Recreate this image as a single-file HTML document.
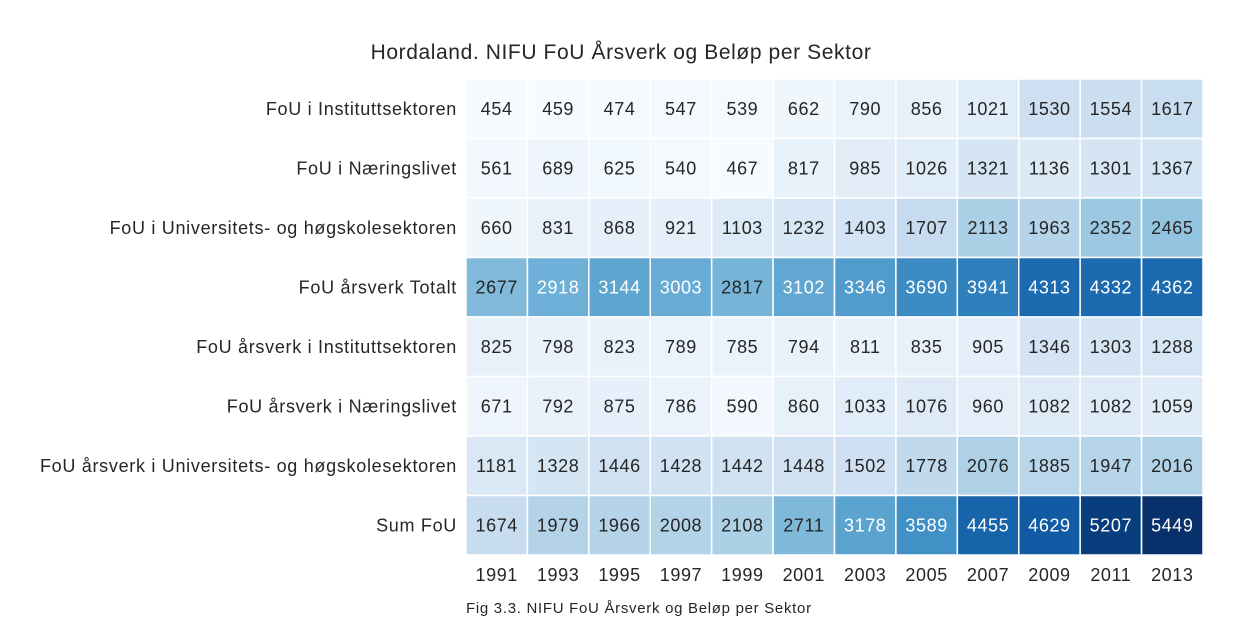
<!DOCTYPE html>
<html><head><meta charset="utf-8">
<style>
body{margin:0;background:#fff;width:1243px;height:623px;overflow:hidden;font-family:"Liberation Sans",Arial,sans-serif;}
</style></head>
<body>
<svg id="chart" width="1243" height="623">
<text x="621" y="59" text-anchor="middle" font-size="21" letter-spacing="0.6" fill="#262626">Hordaland. NIFU FoU Årsverk og Beløp per Sektor</text>
<text x="466" y="613" font-size="15" letter-spacing="0.7" fill="#262626">Fig 3.3. NIFU FoU Årsverk og Beløp per Sektor</text>
<g id="cells"></g>
</svg>
<script>
const years = ["1991","1993","1995","1997","1999","2001","2003","2005","2007","2009","2011","2013"];
const rowLabels = ["FoU i Instituttsektoren","FoU i Næringslivet","FoU i Universitets- og høgskolesektoren","FoU årsverk Totalt","FoU årsverk i Instituttsektoren","FoU årsverk i Næringslivet","FoU årsverk i Universitets- og høgskolesektoren","Sum FoU"];
const row0 = [454,459,474,547,539,662,790,856,1021,1530,1554,1617];
const row1 = [561,689,625,540,467,817,985,1026,1321,1136,1301,1367];
const row2 = [660,831,868,921,1103,1232,1403,1707,2113,1963,2352,2465];
const row3 = [2677,2918,3144,3003,2817,3102,3346,3690,3941,4313,4332,4362];
const row4 = [825,798,823,789,785,794,811,835,905,1346,1303,1288];
const row5 = [671,792,875,786,590,860,1033,1076,960,1082,1082,1059];
const row6 = [1181,1328,1446,1428,1442,1448,1502,1778,2076,1885,1947,2016];
const row7 = [1674,1979,1966,2008,2108,2711,3178,3589,4455,4629,5207,5449];
const values = [row0,row1,row2,row3,row4,row5,row6,row7];

const x0=466, x1=1203, y0=79, y1=555;
const cw=(x1-x0)/years.length, ch=(y1-y0)/rowLabels.length;
const all=values.flat(), vmin=Math.min(...all), vmax=Math.max(...all);
const stops=["#f7fbff","#deebf7","#c6dbef","#9ecae1","#6baed6","#4292c6","#2171b5","#08519c","#08306b"].map(h=>[1,3,5].map(i=>parseInt(h.substr(i,2),16)));
function color(v){let t=(v-vmin)/(vmax-vmin)*8;let i=Math.min(7,Math.floor(t)),f=t-i;return stops[i].map((c,k)=>c+(stops[i+1][k]-c)*f);}
function lum(c){const l=c.map(x=>{x/=255;return x<=0.03928?x/12.92:Math.pow((x+0.055)/1.055,2.4)});return 0.2126*l[0]+0.7152*l[1]+0.0722*l[2];}
const g=document.getElementById('cells'), NS="http://www.w3.org/2000/svg";
const xPos=i=>x0+i*cw, yPos=j=>y0+j*ch;
values.forEach((row,j)=>{
  row.forEach((v,i)=>{
    const c=color(v);
    const r=document.createElementNS(NS,'rect');
    r.setAttribute('x',xPos(i));r.setAttribute('y',yPos(j));r.setAttribute('width',cw);r.setAttribute('height',ch);
    r.setAttribute('fill',`rgb(${c.map(Math.round).join(',')})`);r.setAttribute('stroke','#fff');r.setAttribute('stroke-width','1.5');
    
    
    g.appendChild(r);
    const t=document.createElementNS(NS,'text');
    t.setAttribute('x',xPos(i)+cw/2);t.setAttribute('y',yPos(j)+ch/2+6);t.setAttribute('text-anchor','middle');t.setAttribute('font-size','18');t.setAttribute('letter-spacing','0.6');
    t.setAttribute('fill',lum(c)>0.408?'#262626':'#ffffff');t.textContent=v;
    
    
    g.appendChild(t);
  });
  const l=document.createElementNS(NS,'text');
  l.setAttribute('x',457);l.setAttribute('y',yPos(j)+ch/2+6);l.setAttribute('text-anchor','end');l.setAttribute('font-size','18');l.setAttribute('letter-spacing','0.7');l.setAttribute('fill','#262626');
  l.textContent=rowLabels[j];
  
  
  g.appendChild(l);
});
years.forEach((y,i)=>{
  const t=document.createElementNS(NS,'text');
  t.setAttribute('x',xPos(i)+cw/2);t.setAttribute('y',581);t.setAttribute('text-anchor','middle');t.setAttribute('font-size','18');t.setAttribute('letter-spacing','0.6');t.setAttribute('fill','#262626');
  t.textContent=y;
  
  
  g.appendChild(t);
});
</script>
</body></html>
